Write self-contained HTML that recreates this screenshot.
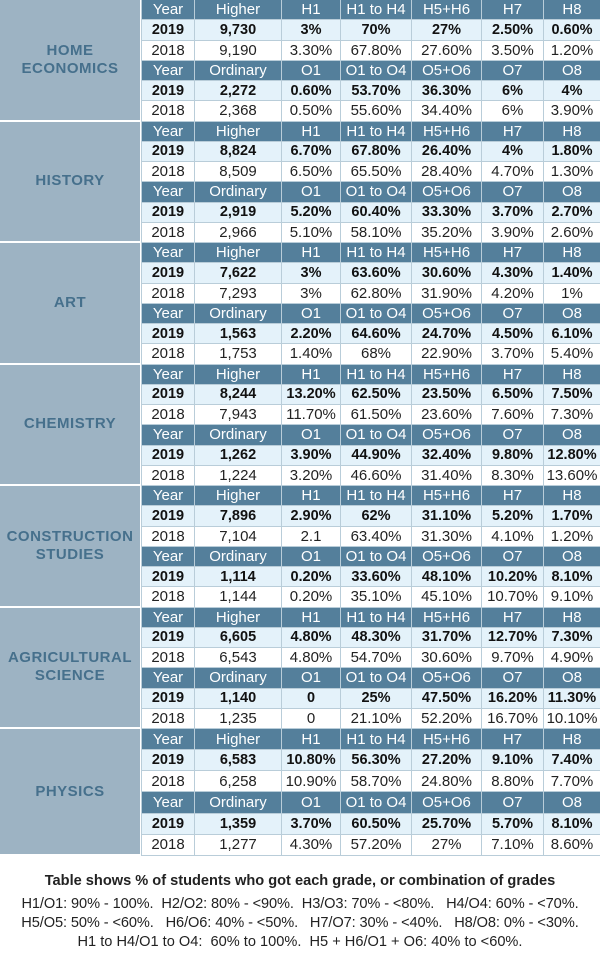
<!DOCTYPE html>
<html><head><meta charset="utf-8"><style>
body{margin:0;width:600px;height:961px;background:#fff;font-family:"Liberation Sans",sans-serif;overflow:hidden;position:relative}
.blk{position:absolute;left:0;width:600px;height:121.5px}
.lab{position:absolute;left:0;top:0;width:140px;height:119.5px;background:#9db3c3;color:#46708c;font-weight:bold;font-size:15px;letter-spacing:0.5px;display:flex;align-items:center;justify-content:center;text-align:center;line-height:18px}
.g{position:absolute;left:141px;top:0;width:459px;height:121.5px;display:grid;grid-template-columns:53px 87px 59px 71px 70px 62px 57px;grid-template-rows:repeat(6,1fr);border-left:1px solid #b9cdd9;box-sizing:border-box}
.g div{border-right:1px solid #b9cdd9;border-bottom:1px solid #b9cdd9;display:flex;align-items:center;justify-content:center;font-size:15px;color:#222;white-space:nowrap;overflow:hidden}
.g .h{background:#547f9b;color:#fff}
.g .b{background:#e4f2fa;font-weight:bold;color:#111;font-size:14.5px}
.foot{position:absolute;left:0;width:600px;text-align:center;color:#222}
</style></head><body>
<div id="root"></div>
<div class="foot" style="top:873px;font-weight:bold;font-size:14.6px">Table shows % of students who got each grade, or combination of grades</div>
<div class="foot" style="top:895px;font-size:14.6px;line-height:19px;letter-spacing:-0.1px">H1/O1: 90% - 100%.&nbsp; H2/O2: 80% - &lt;90%.&nbsp; H3/O3: 70% - &lt;80%.&nbsp;&nbsp; H4/O4: 60% - &lt;70%.<br>H5/O5: 50% - &lt;60%.&nbsp;&nbsp; H6/O6: 40% - &lt;50%.&nbsp;&nbsp; H7/O7: 30% - &lt;40%.&nbsp;&nbsp; H8/O8: 0% - &lt;30%.</div>
<div class="foot" style="top:934px;font-size:14.6px">H1 to H4/O1 to O4:&nbsp; 60% to 100%.&nbsp; H5 + H6/O1 + O6: 40% to &lt;60%.</div>
<script>
var D=[["HOME<br>ECONOMICS",["9,730","3%","70%","27%","2.50%","0.60%"],["9,190","3.30%","67.80%","27.60%","3.50%","1.20%"],["2,272","0.60%","53.70%","36.30%","6%","4%"],["2,368","0.50%","55.60%","34.40%","6%","3.90%"]],
["HISTORY",["8,824","6.70%","67.80%","26.40%","4%","1.80%"],["8,509","6.50%","65.50%","28.40%","4.70%","1.30%"],["2,919","5.20%","60.40%","33.30%","3.70%","2.70%"],["2,966","5.10%","58.10%","35.20%","3.90%","2.60%"]],
["ART",["7,622","3%","63.60%","30.60%","4.30%","1.40%"],["7,293","3%","62.80%","31.90%","4.20%","1%"],["1,563","2.20%","64.60%","24.70%","4.50%","6.10%"],["1,753","1.40%","68%","22.90%","3.70%","5.40%"]],
["CHEMISTRY",["8,244","13.20%","62.50%","23.50%","6.50%","7.50%"],["7,943","11.70%","61.50%","23.60%","7.60%","7.30%"],["1,262","3.90%","44.90%","32.40%","9.80%","12.80%"],["1,224","3.20%","46.60%","31.40%","8.30%","13.60%"]],
["CONSTRUCTION<br>STUDIES",["7,896","2.90%","62%","31.10%","5.20%","1.70%"],["7,104","2.1","63.40%","31.30%","4.10%","1.20%"],["1,114","0.20%","33.60%","48.10%","10.20%","8.10%"],["1,144","0.20%","35.10%","45.10%","10.70%","9.10%"]],
["AGRICULTURAL<br>SCIENCE",["6,605","4.80%","48.30%","31.70%","12.70%","7.30%"],["6,543","4.80%","54.70%","30.60%","9.70%","4.90%"],["1,140","0","25%","47.50%","16.20%","11.30%"],["1,235","0","21.10%","52.20%","16.70%","10.10%"]],
["PHYSICS",["6,583","10.80%","56.30%","27.20%","9.10%","7.40%"],["6,258","10.90%","58.70%","24.80%","8.80%","7.70%"],["1,359","3.70%","60.50%","25.70%","5.70%","8.10%"],["1,277","4.30%","57.20%","27%","7.10%","8.60%"]]];
var H=["Year","Higher","H1","H1 to H4","H5+H6","H7","H8"],O=["Year","Ordinary","O1","O1 to O4","O5+O6","O7","O8"];
var s="";
function row(a,c){return a.map(function(x){return '<div class="'+c+'">'+x+'</div>'}).join("")}
D.forEach(function(d,i){var top=i*121.5,h=i==6?127:121.5;
s+='<div class="blk" style="top:'+top+'px;height:'+h+'px"><div class="lab" style="height:'+(h-2)+'px">'+d[0]+'</div><div class="g" style="height:'+h+'px">'+
row(H,"h")+row(["2019"].concat(d[1]),"b")+row(["2018"].concat(d[2]),"w")+row(O,"h")+row(["2019"].concat(d[3]),"b")+row(["2018"].concat(d[4]),"w")+'</div></div>';});
document.getElementById("root").innerHTML=s;
</script>
</body></html>
